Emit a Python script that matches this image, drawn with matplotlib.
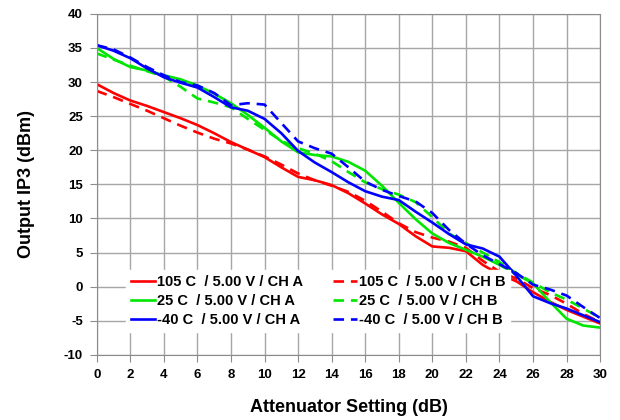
import numpy as np
import matplotlib
matplotlib.use('Agg')
import matplotlib.pyplot as plt

plt.rcParams['font.family'] = ['Liberation Sans', 'DejaVu Sans']
plt.rcParams['font.weight'] = 'bold'
plt.rcParams['axes.unicode_minus'] = False

atten = list(range(0, 31))

red_a = [29.7, 28.4, 27.3, 26.5, 25.6, 24.7, 23.7, 22.5, 21.2, 20.1, 19.0,
         17.5, 16.1, 15.6, 14.9, 13.7, 12.2, 10.6, 9.2, 7.4, 5.9,
         5.7, 5.2, 3.2, 1.8, 0.8, -0.8, -2.2, -3.4, -4.4, -5.4]
red_b = [28.7, 27.8, 26.8, 25.8, 24.7, 23.6, 22.6, 21.7, 21.0, 20.1, 19.1,
         17.9, 16.6, 15.6, 14.8, 13.9, 12.6, 11.0, 9.3, 8.0, 7.2,
         6.6, 5.7, 3.8, 2.2, 1.2, -0.2, -1.2, -2.5, -4.0, -5.2]
green_a = [35.0, 33.4, 32.2, 31.7, 31.0, 30.4, 29.5, 28.3, 26.9, 25.2, 23.3,
           21.3, 19.7, 19.3, 19.1, 18.3, 17.0, 14.8, 12.3, 9.9, 7.8,
           6.4, 5.4, 4.4, 3.2, 1.8, 0.5, -2.2, -4.7, -5.7, -6.0]
green_b = [34.2, 33.3, 32.4, 31.6, 30.8, 29.3, 27.6, 27.0, 26.3, 24.6, 23.0,
           21.4, 20.3, 19.5, 18.4, 16.8, 15.3, 14.3, 13.5, 12.4, 10.2,
           7.8, 6.4, 5.0, 3.6, 2.0, 0.6, -0.8, -1.9, -3.2, -4.6]
blue_a = [35.4, 34.6, 33.5, 32.0, 30.7, 29.9, 29.2, 27.8, 26.3, 25.8, 24.6,
          22.5, 19.9, 18.2, 16.8, 15.3, 14.0, 13.2, 12.7, 11.0, 9.4,
          7.7, 6.2, 5.6, 4.4, 1.6, -1.4, -2.4, -3.2, -4.2, -5.2]
blue_b = [35.4, 34.8, 33.6, 32.2, 31.0, 30.0, 29.5, 28.4, 26.6, 26.9, 26.7,
          24.0, 21.3, 20.3, 19.5, 17.5, 15.4, 14.2, 13.3, 12.5, 10.8,
          8.3, 6.3, 4.6, 3.3, 2.0, 0.3, -0.4, -1.3, -3.0, -4.6]

labels_a = ['105 C  / 5.00 V / CH A', '25 C  / 5.00 V / CH A', '-40 C  / 5.00 V / CH A']
labels_b = ['105 C  / 5.00 V / CH B', '25 C  / 5.00 V / CH B', '-40 C  / 5.00 V / CH B']
colors = ['#ff0000', '#00e600', '#0000ff']

fig = plt.figure(figsize=(6.2, 4.2), dpi=100)
ax = fig.add_axes([0.156, 0.155, 0.812, 0.812])

series_a = [red_a, green_a, blue_a]
series_b = [red_b, green_b, blue_b]
handles_a = []
handles_b = []
for i in range(3):
    ha, = ax.plot(atten, series_a[i], color=colors[i], lw=1.9, label=labels_a[i])
    hb, = ax.plot(atten, series_b[i], color=colors[i], lw=1.9, ls=(0, (4, 2.6)),
                  label=labels_b[i])
    handles_a.append(ha)
    handles_b.append(hb)

ax.set_xlim(0, 30)
ax.set_ylim(-10, 40)
ax.set_xticks(np.arange(0, 31, 2))
ax.set_yticks(np.arange(-10, 41, 5))
ax.grid(True, color='#a6a6a6', lw=1.0)
ax.set_axisbelow(True)
for s in ax.spines.values():
    s.set_color('#8c8c8c')
ax.tick_params(colors='#8c8c8c', labelcolor='black', labelsize=9.5, length=5,
               direction='out', pad=5)
for t in ax.get_xticklabels() + ax.get_yticklabels():
    t.set_fontweight('bold')

ax.set_xlabel('Attenuator Setting (dB)', fontsize=13, fontweight='bold', labelpad=13)
ax.set_ylabel('Output IP3 (dBm)', fontsize=13, fontweight='bold', labelpad=21)

leg = ax.legend(handles_a + handles_b, labels_a + labels_b, ncol=2,
                loc='upper left', bbox_to_anchor=(0.058, 0.249),
                frameon=True, fancybox=False, framealpha=1,
                edgecolor='white', handlelength=1.65,
                handletextpad=0.15, labelspacing=0.33, borderpad=0.35,
                borderaxespad=0, columnspacing=2.0,
                prop={'weight': 'bold', 'size': 10.5})

fig.savefig('out.png', dpi=100)
